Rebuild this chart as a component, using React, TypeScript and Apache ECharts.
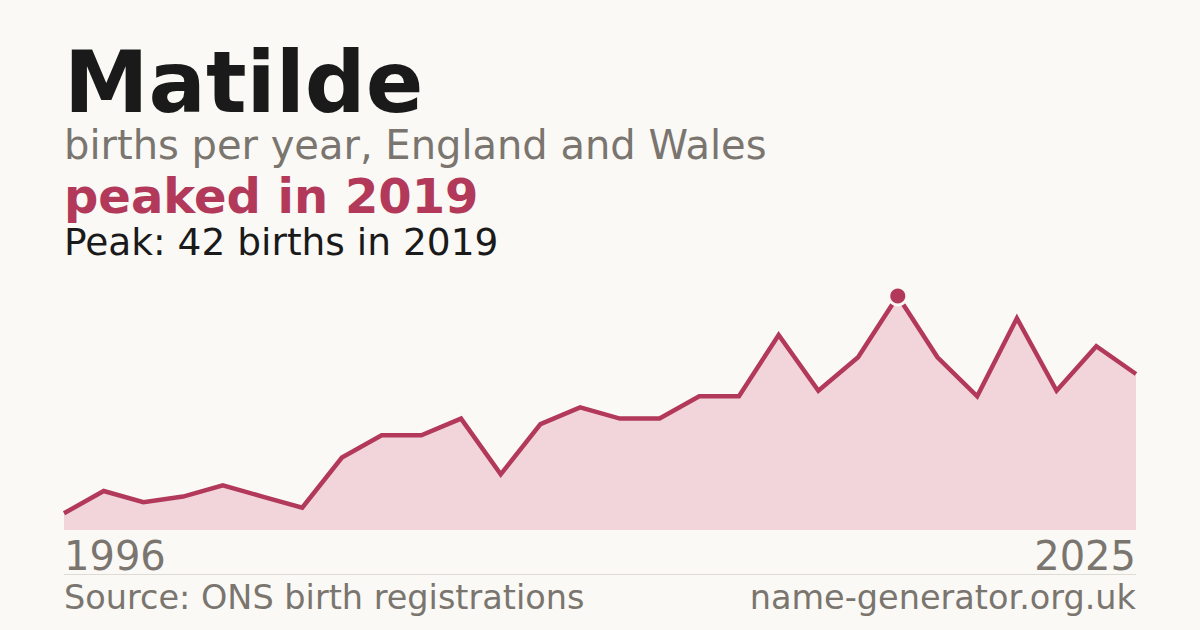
import React, { useEffect, useRef } from 'react';
import * as echarts from 'echarts';

// years shown (a couple of years are missing from the register)
const years = [
  '1996', '1997', '1999', '2000', '2001', '2002', '2003', '2004', '2005', '2006',
  '2007', '2008', '2009', '2011', '2012', '2013', '2014', '2015', '2016', '2017',
  '2018', '2019', '2020', '2021', '2022', '2023', '2024', '2025',
];
const births = [
  3, 7, 5, 6, 8, 6, 4, 13, 17, 17,
  20, 10, 19, 22, 20, 20, 24, 24, 35, 25,
  31, 42, 31, 24, 38, 25, 33, 28,
];

const titleText = 'Matilde';
const subtitleText = 'births per year, England and Wales';
const headlineText = 'peaked in 2019';
const peakText = 'Peak: 42 births in 2019';
const sourceText = 'Source: ONS birth registrations';
const siteText = 'name-generator.org.uk';

const BG = '#faf9f5';
const ACCENT = '#b3395a';
const FILL = '#f1d5db';
const GREY = '#7a756f';
const FONT = '"DejaVu Sans", sans-serif';

const App: React.FC = () => {
  const chartRef = useRef<HTMLDivElement>(null);

  useEffect(() => {
    if (!chartRef.current) return;
    const chart = echarts.init(chartRef.current, undefined, { renderer: 'svg' });
    const last = years.length - 1;

    chart.setOption({
      animation: false,
      backgroundColor: BG,
      textStyle: { fontFamily: FONT },
      grid: { left: 64, right: 64, top: 296, bottom: 100 },
      xAxis: {
        type: 'category',
        data: years,
        boundaryGap: false,
        axisLine: { show: false },
        axisTick: { show: false },
        splitLine: { show: false },
        axisLabel: {
          interval: (i: number) => i === 0 || i === last,
          alignMinLabel: 'left',
          alignMaxLabel: 'right',
          fontSize: 40,
          color: GREY,
          fontFamily: FONT,
          margin: 6,
        },
      },
      yAxis: {
        type: 'value',
        min: 0,
        max: 42,
        show: false,
        splitLine: { show: false },
      },
      series: [
        {
          type: 'line',
          data: births,
          showSymbol: false,
          symbol: 'none',
          lineStyle: { color: ACCENT, width: 4.5, join: 'miter' },
          areaStyle: { color: FILL, opacity: 1 },
          markPoint: {
            symbol: 'circle',
            symbolSize: 18,
            label: { show: false },
            itemStyle: { color: ACCENT, borderColor: BG, borderWidth: 3 },
            data: [{ type: 'max' }],
          },
        },
      ],
      graphic: [
        {
          type: 'text', left: 64, top: 40,
          style: { text: titleText, font: `bold 85px ${FONT}`, lineHeight: 76, fill: '#1a1a1a' },
        },
        {
          type: 'text', left: 64, top: 125,
          style: { text: subtitleText, font: `40px ${FONT}`, lineHeight: 36, fill: GREY },
        },
        {
          type: 'text', left: 64, top: 172,
          style: { text: headlineText, font: `bold 48px ${FONT}`, lineHeight: 44, fill: ACCENT },
        },
        {
          type: 'text', left: 64, top: 223,
          style: { text: peakText, font: `37.5px ${FONT}`, lineHeight: 34, fill: '#1a1a1a' },
        },
        {
          type: 'line',
          shape: { x1: 64, y1: 574.5, x2: 1136, y2: 574.5 },
          style: { stroke: '#dedbd5', lineWidth: 1 },
        },
        {
          type: 'text', left: 64, top: 580,
          style: { text: sourceText, font: `33.5px ${FONT}`, lineHeight: 30, fill: GREY },
        },
        {
          type: 'text', right: 64, top: 580,
          style: { text: siteText, font: `33.5px ${FONT}`, lineHeight: 30, fill: GREY },
        },
      ],
    });

    return () => chart.dispose();
  }, []);

  return (
    <div
      ref={chartRef}
      style={{ position: 'absolute', left: 0, top: 0, width: 1200, height: 630 }}
    />
  );
};

export default App;
